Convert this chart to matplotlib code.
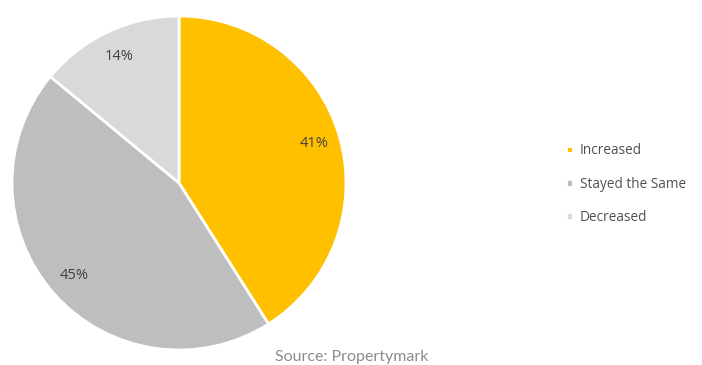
import matplotlib
matplotlib.use("Agg")
import matplotlib.pyplot as plt

categories = ["Increased", "Stayed the Same", "Decreased"]
shares = [41, 45, 14]
colors = ["#FFC000", "#BEBEBE", "#D9D9D9"]

plt.rcParams["font.family"] = ["Open Sans", "DejaVu Sans"]

fig = plt.figure(figsize=(7.02, 3.65), dpi=100)
ax = fig.add_axes([0.0171, 0.0411, 0.4758, 0.9151])

wedges, texts, autotexts = ax.pie(
    shares,
    colors=colors,
    startangle=90,
    counterclock=False,
    autopct=lambda p: f"{p:.0f}%",
    pctdistance=0.84,
    wedgeprops=dict(edgecolor="white", linewidth=2),
    textprops=dict(color="#404040", fontsize=10.5),
)
ax.set_xlim(-1, 1)
ax.set_ylim(-1, 1)
ax.set_aspect("equal")

leg = fig.legend(
    wedges, categories,
    loc="upper left",
    bbox_to_anchor=(0.806, 0.607),
    frameon=False,
    handlelength=0.5, handleheight=0.5,
    handletextpad=0.55,
    labelspacing=1.35,
    fontsize=9.8,
    borderaxespad=0, borderpad=0,
)
for t in leg.get_texts():
    t.set_color("#505050")

fig.text(0.501, 0.022, "Source: Propertymark", ha="center", va="center",
         fontsize=11.5, color="#8C8C8C", family=["Lato", "DejaVu Sans"])

fig.savefig("out.png", dpi=100, facecolor="white")
